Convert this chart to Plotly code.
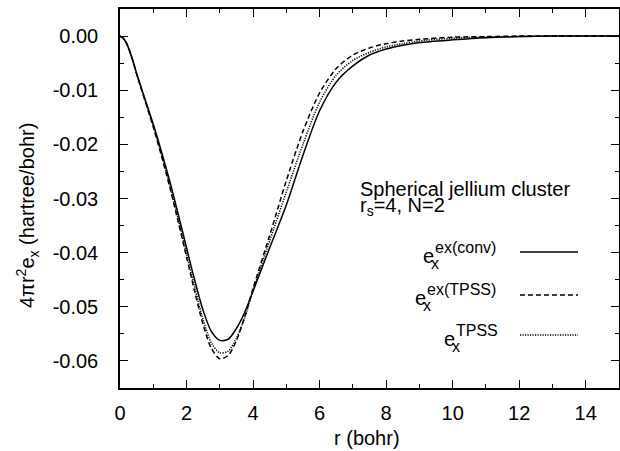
import plotly.graph_objects as go

# ---------------- data ----------------
r = [0, 0.1, 0.2, 0.3, 0.4, 0.5, 0.75, 1.0, 1.25, 1.5, 1.75, 2.0, 2.25, 2.5,
     2.75, 3.0, 3.25, 3.5, 3.75, 4.0, 4.5, 5.0, 5.5, 6.0, 6.5, 7.0, 7.5, 8.0,
     8.5, 9.0, 10.0, 11.0, 12.0, 13.0, 14.0, 15.0]

ex_conv = [0, -0.0004, -0.0014, -0.0029, -0.0048, -0.0069, -0.0116, -0.0163,
           -0.0214, -0.0269, -0.0329, -0.0391, -0.0452, -0.0507, -0.0546,
           -0.0562, -0.0560, -0.0540, -0.0510, -0.0471, -0.0391, -0.0312,
           -0.0220, -0.0138, -0.0085, -0.0055, -0.0035, -0.0024, -0.0017,
           -0.0012, -0.0007, -0.0003, -0.0001, 0, 0, 0]

ex_tpss = [0, -0.0004, -0.0014, -0.0030, -0.0049, -0.0070, -0.0119, -0.0168,
           -0.0222, -0.0280, -0.0343, -0.0408, -0.0473, -0.0533, -0.0577,
           -0.0596, -0.0590, -0.0562, -0.0518, -0.0466, -0.0368, -0.0267,
           -0.0176, -0.0105, -0.0060, -0.0035, -0.0022, -0.0014, -0.0009,
           -0.0006, -0.0002, -0.0001, 0, 0, 0, 0]

tpss = [0, -0.0004, -0.0014, -0.0030, -0.0049, -0.0070, -0.0118, -0.0166,
        -0.0219, -0.0276, -0.0338, -0.0402, -0.0465, -0.0524, -0.0567,
        -0.0585, -0.0582, -0.0558, -0.0520, -0.0470, -0.0378, -0.0288,
        -0.0200, -0.0122, -0.0072, -0.0045, -0.0030, -0.0020, -0.0014,
        -0.0009, -0.0004, -0.0002, -0.0001, 0, 0, 0]

x_tickvals = [0, 2, 4, 6, 8, 10, 12, 14]
x_ticktext = ["0", "2", "4", "6", "8", "10", "12", "14"]
y_tickvals = [0.0, -0.01, -0.02, -0.03, -0.04, -0.05, -0.06]
y_ticktext = ["0.00", "-0.01", "-0.02", "-0.03", "-0.04", "-0.05", "-0.06"]

# ---------------- layout geometry ----------------
W, H = 620, 451
L, R, T, B = 120, 619, 9, 388
FONT = "Liberation Sans, Arial, Helvetica, sans-serif"


def px(x):
    return (x - L) / (R - L)


def py(y):
    return (B - y) / (B - T)


styles = [
    dict(color="black", width=1.5),
    dict(color="black", width=1.5, dash="5px,3px"),
    dict(color="black", width=1.5, dash="1.2px,1.3px"),
]

fig = go.Figure()
for ys, st, nm in zip([ex_conv, ex_tpss, tpss], styles,
                      ["ex(conv)", "ex(TPSS)", "TPSS"]):
    fig.add_trace(go.Scatter(x=r, y=ys, mode="lines", name=nm,
                             line=dict(shape="spline", smoothing=0.8, **st),
                             showlegend=False, hoverinfo="skip"))

axis_common = dict(
    showline=True, linecolor="black", linewidth=1.5, mirror="allticks",
    ticks="inside", ticklen=8, tickwidth=1.2, tickcolor="black",
    showgrid=False, zeroline=False, automargin=False,
    tickfont=dict(family=FONT, size=20, color="black"),
)

fig.update_xaxes(range=[0, 15], tickvals=x_tickvals, ticktext=x_ticktext,
                 minor=dict(dtick=1, ticks="inside", ticklen=4,
                            tickwidth=1.2, tickcolor="black"),
                 ticklabelstandoff=6, **axis_common)
fig.update_yaxes(range=[-0.065, 0.005], tickvals=y_tickvals,
                 ticktext=y_ticktext,
                 minor=dict(tick0=0, dtick=0.005, ticks="inside", ticklen=4,
                            tickwidth=1.2, tickcolor="black"),
                 ticklabelstandoff=16, **axis_common)

ann = []


def text(x, y, s, size=20, xanchor="left", angle=0):
    ann.append(dict(x=px(x), y=py(y), xref="paper", yref="paper", text=s,
                    showarrow=False, xanchor=xanchor, yanchor="middle",
                    textangle=angle,
                    font=dict(family=FONT, size=size, color="black")))


# axis titles
text(367, 438, "r (bohr)", xanchor="center")
text(27, 216, "4πr<sup>2</sup>e<sub>x</sub> (hartree/bohr)", xanchor="center",
     angle=-90)

# label block
text(358, 189, "Spherical jellium cluster")
text(358, 206, "r<sub>s</sub>=4, N=2")

# legend labels (stacked sub/superscripts)
legend_rows = [
    # e_left, e_y, sup text, sup_left, sup_y, x_left, x_y, line_y, dash
    (421, 256, "ex(conv)", 433, 247, 429, 263, 252, None),
    (413, 298, "ex(TPSS)", 425, 289, 421, 305, 295, "5px,3px"),
    (442, 339, "TPSS", 454, 330, 450, 346, 335, "1.2px,1.3px"),
]
shapes = []
for el, ey, st, sl, sy, xl, xy, ly, dash in legend_rows:
    text(el, ey, "e")
    text(sl, sy, st, size=16)
    text(xl, xy, "x", size=16)
    line = dict(color="black", width=1.5)
    if dash:
        line["dash"] = dash
    shapes.append(dict(type="line", xref="paper", yref="paper",
                       x0=px(520), x1=px(578), y0=py(ly), y1=py(ly),
                       line=line))

fig.update_layout(
    width=W, height=H,
    margin=dict(l=L, r=W - R, t=T, b=H - B, pad=0, autoexpand=False),
    paper_bgcolor="white", plot_bgcolor="white",
    annotations=ann, shapes=shapes,
    font=dict(family=FONT, size=20, color="black"),
    hovermode=False,
)

fig.write_html(
    "out.html",
    config={"displayModeBar": False},
    post_script="document.body.style.margin='0';"
                "document.body.style.overflow='hidden';",
)
